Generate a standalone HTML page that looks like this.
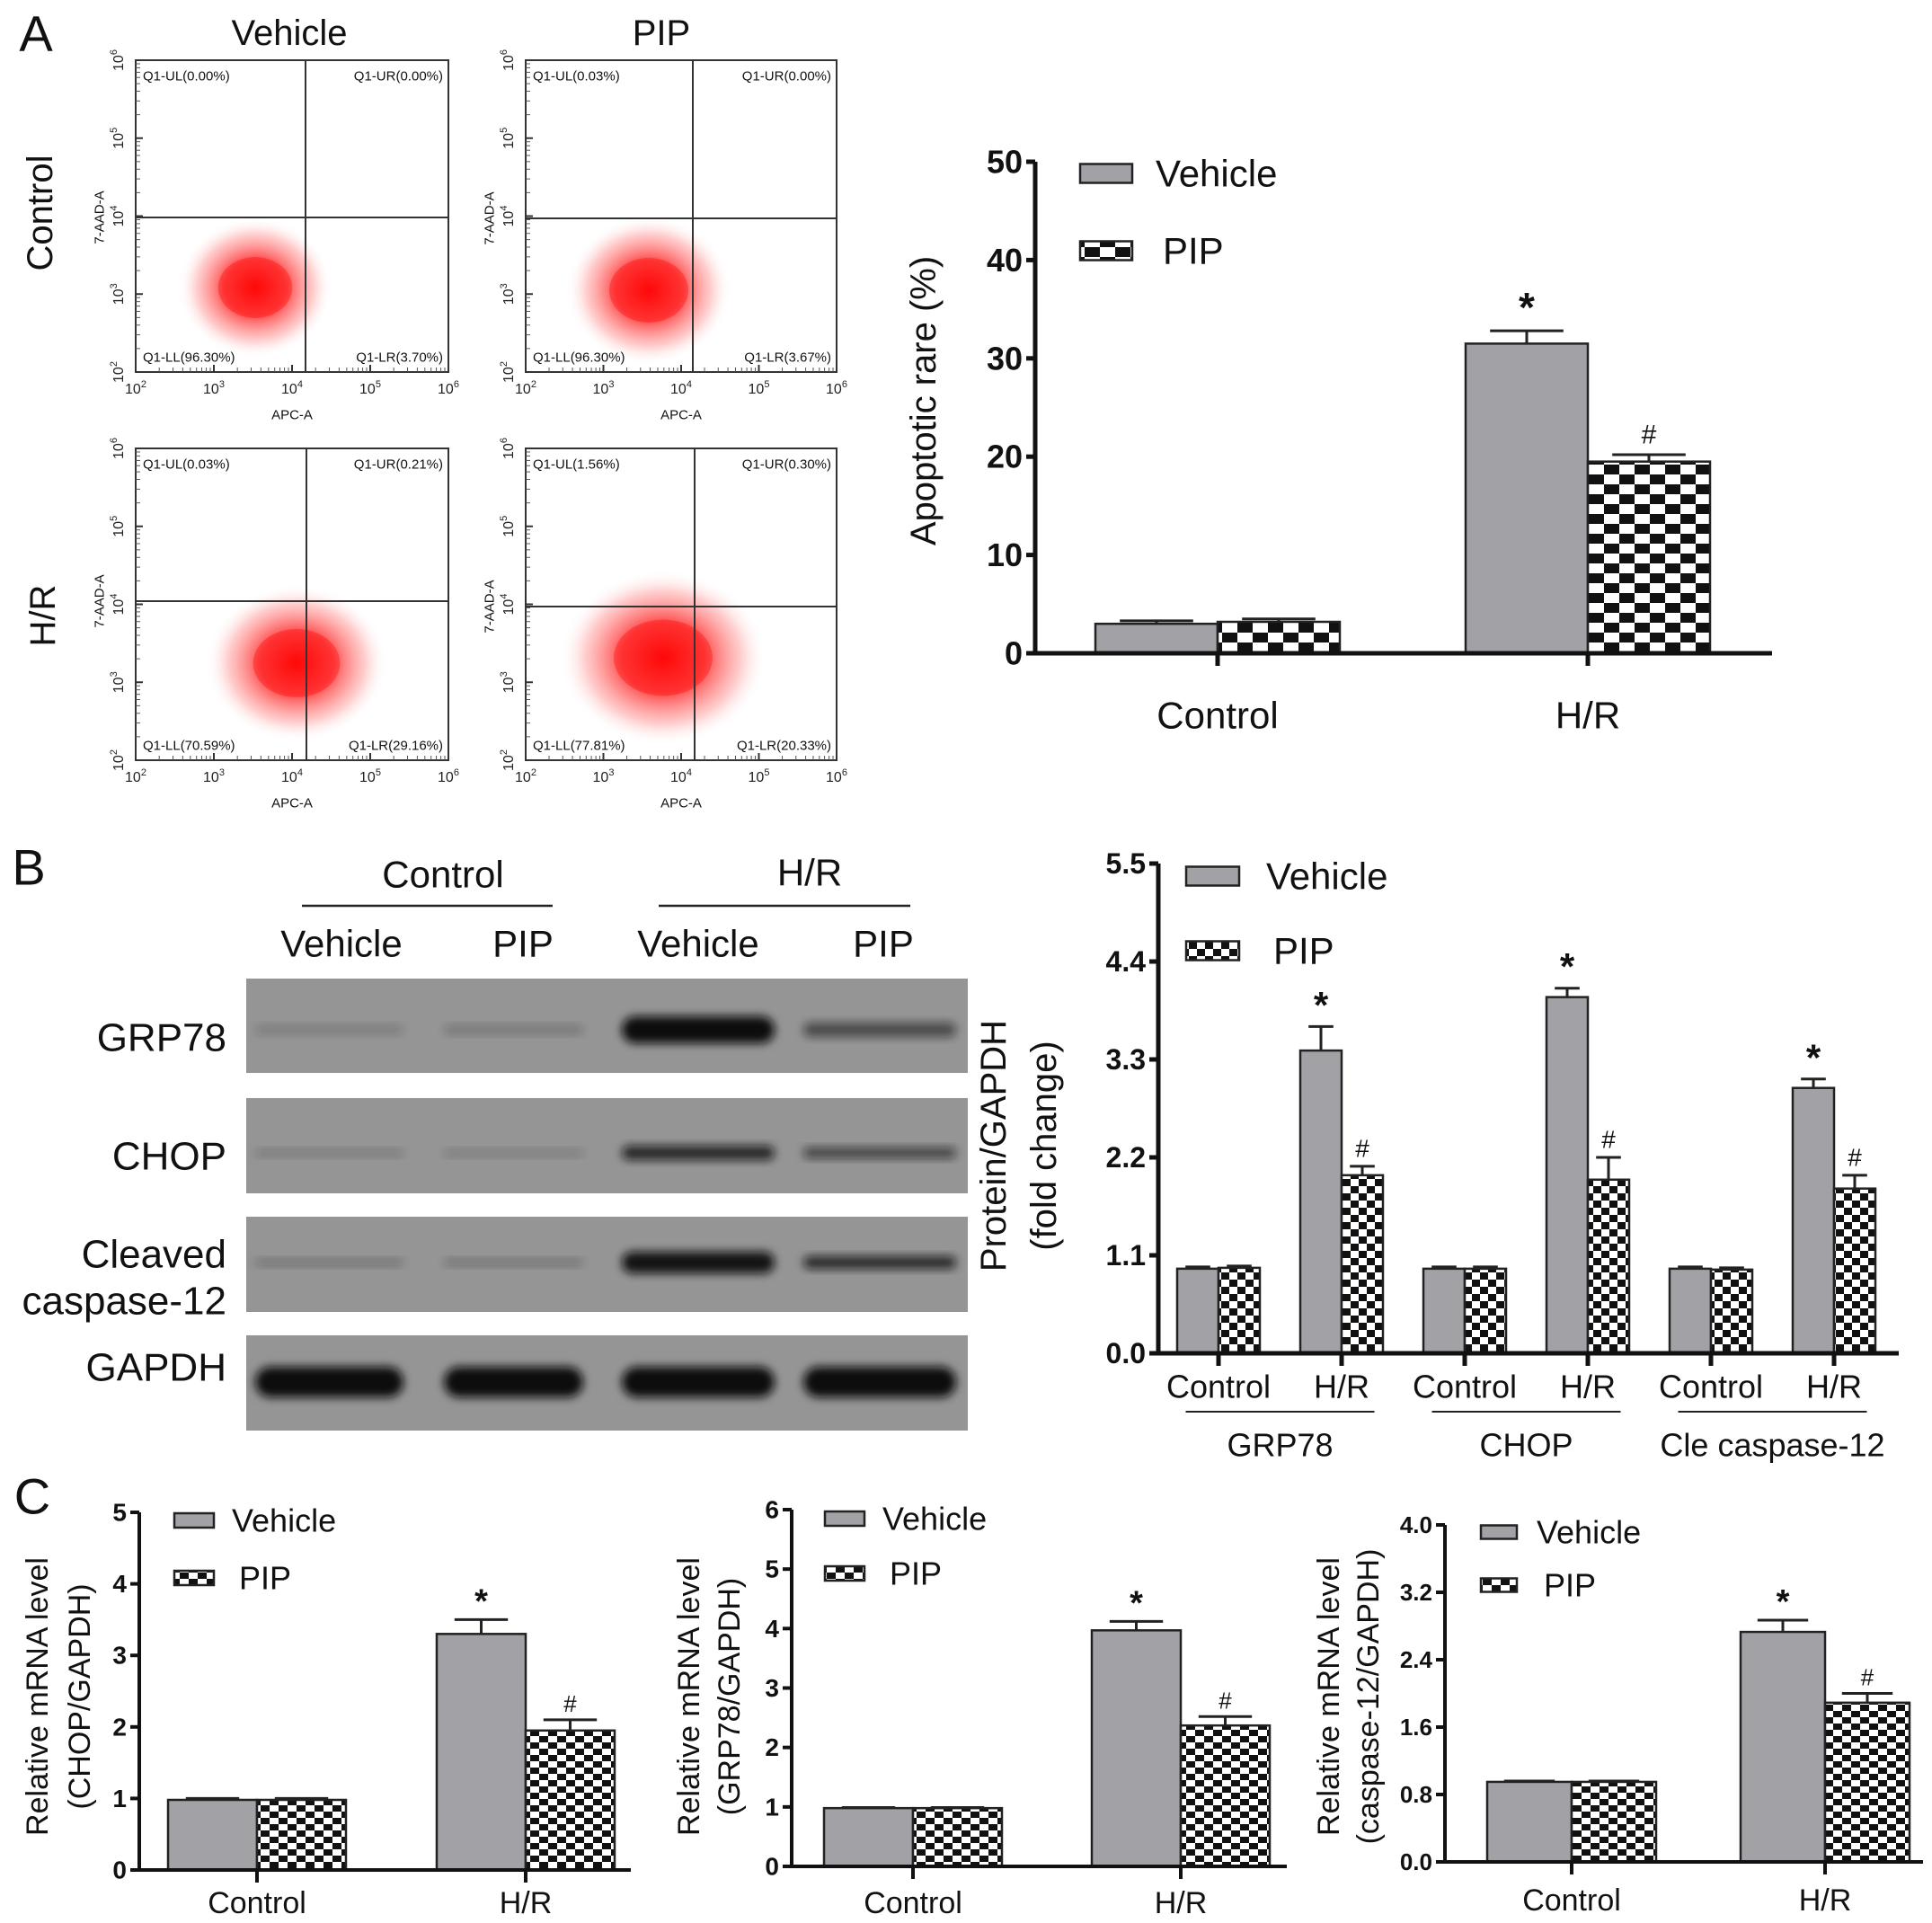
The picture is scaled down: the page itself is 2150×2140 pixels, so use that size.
<!DOCTYPE html>
<html><head><meta charset="utf-8"><style>
html,body{margin:0;padding:0;background:#fff}
svg{display:block}
text{font-family:"Liberation Sans",Arial,sans-serif}
.n{font-family:"Liberation Sans Narrow","Liberation Sans",sans-serif}
</style></head><body>
<svg id="fig" width="2150" height="2140" viewBox="0 0 2150 2140" xmlns="http://www.w3.org/2000/svg">
<defs>
<pattern id="chkA" width="34" height="22" patternUnits="userSpaceOnUse"><rect width="34" height="22" fill="#fff"/><rect width="17" height="11" fill="#111"/><rect x="17" y="11" width="17" height="11" fill="#111"/></pattern>
<pattern id="chkB" width="18" height="16" patternUnits="userSpaceOnUse"><rect width="18" height="16" fill="#fff"/><rect width="9" height="8" fill="#111"/><rect x="9" y="8" width="9" height="8" fill="#111"/></pattern>
<pattern id="chkC" width="20" height="14" patternUnits="userSpaceOnUse"><rect width="20" height="14" fill="#fff"/><rect width="10" height="7" fill="#111"/><rect x="10" y="7" width="10" height="7" fill="#111"/></pattern>
<radialGradient id="blob"><stop offset="0" stop-color="#f00" stop-opacity="0.95"/><stop offset="0.4" stop-color="#f11" stop-opacity="0.75"/><stop offset="0.75" stop-color="#f55" stop-opacity="0.3"/><stop offset="1" stop-color="#fff" stop-opacity="0"/></radialGradient>
<filter id="blur" x="-20%" y="-50%" width="140%" height="200%"><feGaussianBlur stdDeviation="5"/></filter>
</defs>
<g id="root"></g>
</svg>
<script>
// ---------- Panel A bar chart data ----------
const aCats = ["Control", "H/R"];
const aVehicle = [3.0, 31.5];
const aPip = [3.2, 19.5];
const aVehErr = [0.3, 1.3];
const aPipErr = [0.3, 0.7];
const aTicks = [0, 10, 20, 30, 40, 50];
// ---------- Panel B bar chart data ----------
const bCats = ["Control", "H/R", "Control", "H/R", "Control", "H/R"];
const bVehicle = [0.95, 3.4, 0.95, 4.0, 0.95, 2.98];
const bPip = [0.96, 2.0, 0.95, 1.95, 0.94, 1.85];
const bVehErr = [0.02, 0.27, 0.02, 0.1, 0.02, 0.1];
const bPipErr = [0.02, 0.1, 0.02, 0.25, 0.02, 0.15];
const bTicks = [0.0, 1.1, 2.2, 3.3, 4.4, 5.5];
const bGroups = ["GRP78", "CHOP", "Cle caspase-12"];
// ---------- Panel C charts data ----------
const c1Cats = ["Control", "H/R"];
const c1Vehicle = [0.98, 3.3];
const c1Pip = [0.98, 1.95];
const c1VehErr = [0.02, 0.2];
const c1PipErr = [0.02, 0.15];
const c1Ticks = [0, 1, 2, 3, 4, 5];
const c2Cats = ["Control", "H/R"];
const c2Vehicle = [0.98, 3.97];
const c2Pip = [0.98, 2.37];
const c2VehErr = [0.01, 0.15];
const c2PipErr = [0.01, 0.15];
const c2Ticks = [0, 1, 2, 3, 4, 5, 6];
const c3Cats = ["Control", "H/R"];
const c3Vehicle = [0.95, 2.73];
const c3Pip = [0.95, 1.89];
const c3VehErr = [0.01, 0.14];
const c3PipErr = [0.01, 0.11];
const c3Ticks = [0.0, 0.8, 1.6, 2.4, 3.2, 4.0];
// ---------- Flow cytometry quadrant labels ----------
const flowUL = ["Q1-UL(0.00%)", "Q1-UL(0.03%)", "Q1-UL(0.03%)", "Q1-UL(1.56%)"];
const flowUR = ["Q1-UR(0.00%)", "Q1-UR(0.00%)", "Q1-UR(0.21%)", "Q1-UR(0.30%)"];
const flowLL = ["Q1-LL(96.30%)", "Q1-LL(96.30%)", "Q1-LL(70.59%)", "Q1-LL(77.81%)"];
const flowLR = ["Q1-LR(3.70%)", "Q1-LR(3.67%)", "Q1-LR(29.16%)", "Q1-LR(20.33%)"];

const NS = "http://www.w3.org/2000/svg";
const root = document.getElementById("root");
function el(tag, attrs, parent, txt) {
  const e = document.createElementNS(NS, tag);
  for (const k in attrs) e.setAttribute(k, attrs[k]);
  if (txt !== undefined) e.textContent = txt;
  (parent || root).appendChild(e);
  return e;
}
function label(x, y, s, size, opts, parent) {
  opts = opts || {};
  const a = {x: x, y: y, "font-size": size, "text-anchor": opts.anchor || "middle", "dominant-baseline": "central", fill: "#111"};
  if (opts.bold) a["font-weight"] = "bold";
  if (opts.cls) a["class"] = opts.cls;
  if (opts.rot) a.transform = "rotate(-90 " + x + " " + y + ")";
  const t = el("text", a, parent, s);
  
  
  return t;
}

// ---------- Panel letters ----------
label(40, 37, "A", 56, {name: "panel-a-letter"});
label(32, 965, "B", 56, {name: "panel-b-letter"});
label(36, 1665, "C", 56, {name: "panel-c-letter"});

// ---------- Flow cytometry panels ----------
const flowBoxes = [
  {x: 151, y: 67, w: 348, h: 347, vx: 340, hy: 242, cx: 284, cy: 320, rx: 75, ry: 68},
  {x: 585, y: 67, w: 346, h: 347, vx: 771, hy: 243, cx: 722, cy: 323, rx: 80, ry: 72},
  {x: 151, y: 499, w: 348, h: 347, vx: 341, hy: 669, cx: 330, cy: 738, rx: 88, ry: 76},
  {x: 585, y: 499, w: 346, h: 347, vx: 773, hy: 675, cx: 738, cy: 732, rx: 100, ry: 85}
];
label(322, 37, "Vehicle", 40, {name: "col-title-vehicle"});
label(736, 37, "PIP", 40, {name: "col-title-pip"});
label(45, 237, "Control", 40, {rot: true, name: "row-title-control"});
label(48, 685, "H/R", 40, {rot: true, name: "row-title-hr"});
flowBoxes.forEach((b, i) => {
  const g = el("g", {});
  
  
  const blob = el("ellipse", {cx: b.cx, cy: b.cy, rx: b.rx * 1.15, ry: b.ry * 1.15, fill: "url(#blob)"}, g);
  
  
  el("ellipse", {cx: b.cx, cy: b.cy, rx: b.rx * 0.55, ry: b.ry * 0.5, fill: "#f00", opacity: 0.35}, g);
  const box = el("rect", {x: b.x, y: b.y, width: b.w, height: b.h, fill: "none", stroke: "#333", "stroke-width": 2}, g);
  
  
  el("line", {x1: b.vx, y1: b.y, x2: b.vx, y2: b.y + b.h, stroke: "#333", "stroke-width": 2}, g);
  el("line", {x1: b.x, y1: b.hy, x2: b.x + b.w, y2: b.hy, stroke: "#333", "stroke-width": 2}, g);
  label(b.x + 8, b.y + 18, flowUL[i], 15, {anchor: "start", name: "quadrant-ul"}, g);
  label(b.x + b.w - 6, b.y + 18, flowUR[i], 15, {anchor: "end", name: "quadrant-ur"}, g);
  label(b.x + 8, b.y + b.h - 16, flowLL[i], 15, {anchor: "start", name: "quadrant-ll"}, g);
  label(b.x + b.w - 6, b.y + b.h - 16, flowLR[i], 15, {anchor: "end", name: "quadrant-lr"}, g);
  for (let k = 0; k <= 4; k++) {
    const tx = b.x + k * b.w / 4, ty = b.y + b.h - k * b.h / 4;
    el("line", {x1: tx, y1: b.y + b.h, x2: tx, y2: b.y + b.h - 8, stroke: "#333", "stroke-width": 2}, g);
    el("line", {x1: b.x, y1: ty, x2: b.x + 8, y2: ty, stroke: "#333", "stroke-width": 2}, g);
    for (let m = 2; m < 10 && k < 4; m++) {
      const mx = tx + Math.log10(m) * b.w / 4, my = ty - Math.log10(m) * b.h / 4;
      el("line", {x1: mx, y1: b.y + b.h, x2: mx, y2: b.y + b.h - 5, stroke: "#555", "stroke-width": 1}, g);
      el("line", {x1: b.x, y1: my, x2: b.x + 5, y2: my, stroke: "#555", "stroke-width": 1}, g);
    }
    const xt = el("text", {x: tx, y: b.y + b.h + 24, "font-size": 16, "text-anchor": "middle", fill: "#222"}, g);
    
    
    xt.appendChild(document.createTextNode("10"));
    el("tspan", {dy: -7, "font-size": 11}, xt, String(k + 2));
    const yt = el("text", {x: b.x - 14, y: ty, "font-size": 16, "text-anchor": "middle", fill: "#222", transform: "rotate(-90 " + (b.x - 14) + " " + ty + ")"}, g);
    
    
    yt.appendChild(document.createTextNode("10"));
    el("tspan", {dy: -7, "font-size": 11}, yt, String(k + 2));
  }
  label(b.x + b.w * 0.5, b.y + b.h + 48, "APC-A", 15, {name: "x-axis-title"}, g);
  label(b.x - 40, b.hy, "7-AAD-A", 15, {rot: true, name: "y-axis-title"}, g);
});

// ---------- Generic bar chart ----------
function barChart(c) {
  const g = el("g", {});
  
  
  const vmax = c.ticks[c.ticks.length - 1];
  const y = v => c.y0 - (v / vmax) * (c.y0 - c.yTop);
  const cx = i => c.first + i * c.step;
  const ya = el("line", {x1: c.ax, y1: c.yTop, x2: c.ax, y2: c.y0, stroke: "#111", "stroke-width": c.lw}, g);
  
  
  c.ticks.forEach(t => {
    el("line", {x1: c.ax - 10, y1: y(t), x2: c.ax, y2: y(t), stroke: "#111", "stroke-width": c.lw}, g);
    label(c.ax - 14, y(t), t.toFixed(c.dec), c.tickSize, {anchor: "end", bold: true, cls: "n", name: "y-tick-label"}, g);
  });
  c.cats.forEach((cat, i) => {
    const m = cx(i);
    const bv = el("rect", {x: m - c.bw, y: y(c.veh[i]), width: c.bw, height: c.y0 - y(c.veh[i]), fill: "#a2a2a6", stroke: "#222", "stroke-width": 2.5}, g);
    
    
    const bp = el("rect", {x: m, y: y(c.pip[i]), width: c.bw, height: c.y0 - y(c.pip[i]), fill: "url(#" + c.pat + ")", stroke: "#222", "stroke-width": 2.5}, g);
    
    
    [[m - c.bw / 2, c.veh[i], c.vehErr[i]], [m + c.bw / 2, c.pip[i], c.pipErr[i]]].forEach(([ex, v, e]) => {
      const eb = el("path", {d: "M" + ex + " " + y(v) + "V" + y(v + e) + "M" + (ex - c.bw * 0.3) + " " + y(v + e) + "H" + (ex + c.bw * 0.3), stroke: "#222", "stroke-width": 3, fill: "none"}, g);
      
      
    });
    if (cat === "H/R") {
      label(m - c.bw / 2, y(c.veh[i] + c.vehErr[i]) - c.starOff, "*", c.starSize, {bold: true, name: "significance-star"}, g);
      label(m + c.bw / 2, y(c.pip[i] + c.pipErr[i]) - c.hashOff, "#", c.hashSize, {name: "significance-hash"}, g).setAttribute("font-family", "Liberation Serif");
    }
    el("line", {x1: m, y1: c.y0, x2: m, y2: c.y0 + 14, stroke: "#111", "stroke-width": c.lw}, g);
    label(m + (c.catDx || 0), c.catY, cat, c.catSize, {cls: "n", name: "x-category-label"}, g);
  });
  const xa = el("line", {x1: c.ax - c.lw / 2, y1: c.y0, x2: c.xEnd, y2: c.y0, stroke: "#111", "stroke-width": c.lw}, g);
  
  
  const lv = el("rect", {x: c.lx, y: c.ly1 - c.lh / 2, width: c.lw2, height: c.lh, fill: "#a2a2a6", stroke: "#222", "stroke-width": 2.5}, g);
  
  
  label(c.lx + c.lw2 + c.ltx, c.ly1, "Vehicle", c.legSize, {anchor: "start", cls: "n", name: "legend-label-vehicle"}, g);
  const lp = el("rect", {x: c.lx, y: c.ly2 - c.lh / 2, width: c.lw2, height: c.lh, fill: "url(#" + c.pat + ")", stroke: "#222", "stroke-width": 2.5}, g);
  
  
  label(c.lx + c.lw2 + c.ltx + 8, c.ly2, "PIP", c.legSize, {anchor: "start", cls: "n", name: "legend-label-pip"}, g);
  c.titles.forEach((t, k) => label(c.tx + k * c.tdx, c.ty, t, c.titleSize, {rot: true, name: "y-axis-title"}, g));
  return {g, cx};
}

barChart({name: "apoptosis-chart", ax: 1152, yTop: 180, y0: 727, xEnd: 1972, lw: 5, ticks: aTicks, dec: 0, tickSize: 36,
  cats: aCats, veh: aVehicle, pip: aPip, vehErr: aVehErr, pipErr: aPipErr, first: 1355, step: 412, bw: 136, pat: "chkA",
  starSize: 46, starOff: 26, hashSize: 30, hashOff: 22, catY: 796, catSize: 42,
  lx: 1202, lw2: 58, lh: 21, ly1: 193, ly2: 279, ltx: 26, legSize: 42,
  titles: ["Apoptotic rare  (%)"], tx: 1028, tdx: 0, ty: 446, titleSize: 40});

const bChart = barChart({name: "protein-chart", ax: 1289, yTop: 961, y0: 1506, xEnd: 2113, lw: 5, ticks: bTicks, dec: 1, tickSize: 32,
  cats: bCats, veh: bVehicle, pip: bPip, vehErr: bVehErr, pipErr: bPipErr, first: 1356, step: 137, bw: 46, pat: "chkB",
  starSize: 42, starOff: 24, hashSize: 28, hashOff: 20, catY: 1543, catSize: 36,
  lx: 1320, lw2: 59, lh: 21, ly1: 975, ly2: 1058, ltx: 30, legSize: 42,
  titles: ["Protein/GAPDH", "(fold change)"], tx: 1106, tdx: 56, ty: 1275, titleSize: 40});
bGroups.forEach((gname, k) => {
  const mid = (bChart.cx(2 * k) + bChart.cx(2 * k + 1)) / 2;
  const ln = el("line", {x1: mid - 105, y1: 1571, x2: mid + 105, y2: 1571, stroke: "#222", "stroke-width": 2});
  
  
  label(mid, 1608, gname, 36, {cls: "n", name: "group-label"});
});

barChart({name: "chop-mrna-chart", ax: 155, yTop: 1683, y0: 2081, xEnd: 702, lw: 4, ticks: c1Ticks, dec: 0, tickSize: 28,
  cats: c1Cats, veh: c1Vehicle, pip: c1Pip, vehErr: c1VehErr, pipErr: c1PipErr, first: 286, step: 299, bw: 99, pat: "chkC",
  starSize: 38, starOff: 20, hashSize: 26, hashOff: 18, catY: 2118, catSize: 34,
  lx: 194, lw2: 44, lh: 16, ly1: 1692, ly2: 1756, ltx: 20, legSize: 36,
  titles: ["Relative mRNA level", "(CHOP/GAPDH)"], tx: 42, tdx: 47, ty: 1888, titleSize: 34});

barChart({name: "grp78-mrna-chart", ax: 881, yTop: 1680, y0: 2077, xEnd: 1432, lw: 4, ticks: c2Ticks, dec: 0, tickSize: 28,
  cats: c2Cats, veh: c2Vehicle, pip: c2Pip, vehErr: c2VehErr, pipErr: c2PipErr, first: 1016, step: 298, bw: 99, pat: "chkC",
  starSize: 38, starOff: 20, hashSize: 26, hashOff: 18, catY: 2118, catSize: 34,
  lx: 918, lw2: 44, lh: 16, ly1: 1690, ly2: 1751, ltx: 20, legSize: 36,
  titles: ["Relative mRNA level", "(GRP78/GAPDH)"], tx: 767, tdx: 45, ty: 1888, titleSize: 34});

barChart({name: "caspase12-mrna-chart", ax: 1608, yTop: 1697, y0: 2072, xEnd: 2140, lw: 4, ticks: c3Ticks, dec: 1, tickSize: 26,
  cats: c3Cats, veh: c3Vehicle, pip: c3Pip, vehErr: c3VehErr, pipErr: c3PipErr, first: 1749, step: 282, bw: 94, pat: "chkC",
  starSize: 38, starOff: 20, hashSize: 26, hashOff: 18, catY: 2115, catSize: 34,
  lx: 1648, lw2: 40, lh: 15, ly1: 1705, ly2: 1764, ltx: 22, legSize: 36,
  titles: ["Relative mRNA level", "(caspase-12/GAPDH)"], tx: 1479, tdx: 44, ty: 1888, titleSize: 34});

// ---------- Western blot ----------
const wb = el("g", {});


label(493, 973, "Control", 42, {cls: "n", name: "blot-group-control"}, wb);
label(901, 971, "H/R", 42, {cls: "n", name: "blot-group-hr"}, wb);
el("line", {x1: 336, y1: 1008, x2: 615, y2: 1008, stroke: "#222", "stroke-width": 2.5}, wb);
el("line", {x1: 733, y1: 1008, x2: 1013, y2: 1008, stroke: "#222", "stroke-width": 2.5}, wb);
const lanes = [{x: 284, w: 165, t: "Vehicle", c: 380}, {x: 494, w: 155, t: "PIP", c: 582}, {x: 692, w: 170, t: "Vehicle", c: 777}, {x: 894, w: 170, t: "PIP", c: 983}];
lanes.forEach(l => label(l.c, 1050, l.t, 42, {cls: "n", name: "lane-label"}, wb));
const rows = [
  {y: 1089, h: 105, n: ["GRP78"], ly: [1155], band: [[0.18, 10], [0.22, 10], [1, 30], [0.55, 16]], by: 1146},
  {y: 1222, h: 106, n: ["CHOP"], ly: [1287], band: [[0.2, 8], [0.18, 8], [0.8, 16], [0.6, 12]], by: 1283},
  {y: 1354, h: 106, n: ["Cleaved", "caspase-12"], ly: [1396, 1448], band: [[0.25, 8], [0.25, 8], [0.95, 24], [0.8, 14]], by: 1405},
  {y: 1486, h: 106, n: ["GAPDH"], ly: [1522], band: [[1, 34], [1, 34], [1, 34], [1, 34]], by: 1538}
];
rows.forEach((r, i) => {
  const rr = el("rect", {x: 274, y: r.y, width: 803, height: r.h, fill: "#959595"}, wb);
  
  
  r.n.forEach((t, k) => label(252, r.ly[k], t, 44, {anchor: "end", cls: "n", name: "blot-row-label"}, wb));
  lanes.forEach((l, j) => {
    const [op, h] = r.band[j];
    const b = el("rect", {x: l.x, y: r.by - h / 2, width: l.w, height: h, rx: h / 2, fill: "#111", opacity: op, filter: "url(#blur)"}, wb);
    
    
  });
});
</script>
</body></html>
